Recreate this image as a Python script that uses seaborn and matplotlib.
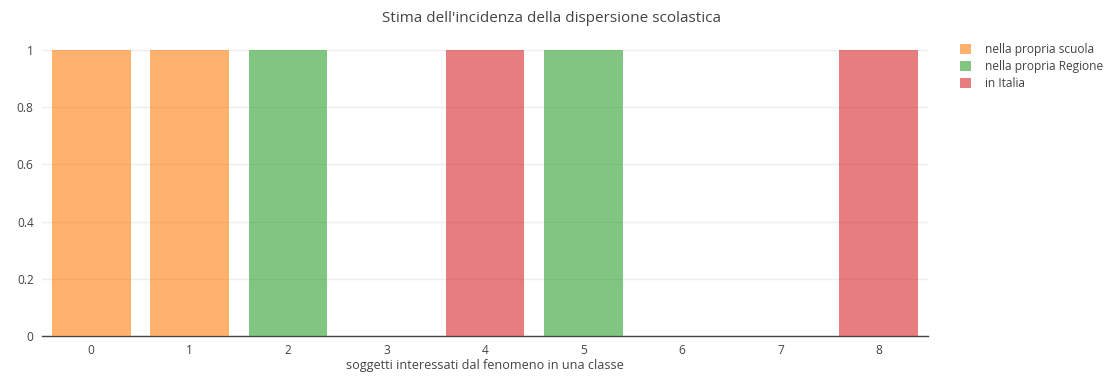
import matplotlib
matplotlib.use("Agg")
import matplotlib.pyplot as plt
import seaborn as sns
import pandas as pd
from matplotlib.patches import Patch

categories = ["0", "1", "2", "3", "4", "5", "6", "7", "8"]
series_names = ["nella propria scuola", "nella propria Regione", "in Italia"]
scuola_x = ["0", "1"]
scuola_y = [1, 1]
regione_x = ["2", "5"]
regione_y = [1, 1]
italia_x = ["4", "8"]
italia_y = [1, 1]
colors = ["#ff7f0e", "#2ca02c", "#d62728"]

rows = []
for name, xs, ys in zip(series_names, [scuola_x, regione_x, italia_x], [scuola_y, regione_y, italia_y]):
    for x, y in zip(xs, ys):
        rows.append({"cat": x, "val": y, "serie": name})
df = pd.DataFrame(rows)

sns.set_theme(style="white")
plt.rcParams["font.family"] = ["Open Sans", "DejaVu Sans"]

fig = plt.figure(figsize=(11.04, 3.84), dpi=100)
ax = fig.add_axes([42/1104, 1-336/384, (928-42)/1104, (336-35)/384])

sns.barplot(data=df, x="cat", y="val", hue="serie", order=categories,
            hue_order=series_names, palette=colors, dodge=False, saturation=1,
            width=0.8, alpha=0.6, ax=ax, legend=False, zorder=3,
            linewidth=0)

ax.set_ylim(0, 1.0526)
ax.set_xlim(-0.5, 8.5)
ax.set_yticks([0, 0.2, 0.4, 0.6, 0.8, 1])
ax.set_yticklabels(["0", "0.2", "0.4", "0.6", "0.8", "1"])
ax.grid(axis="y", color="#eeeeee", linewidth=1, zorder=0)
ax.set_axisbelow(True)
for s in ["top", "right", "left"]:
    ax.spines[s].set_visible(False)
ax.spines["bottom"].set_color("#444444")
ax.spines["bottom"].set_linewidth(1)
ax.spines["bottom"].set_zorder(2)
ax.tick_params(axis="both", length=0, labelsize=8.6, colors="#444444", pad=6)
ax.set_xlabel("soggetti interessati dal fenomeno in una classe", fontsize=9.1, color="#444444", labelpad=1)
ax.set_ylabel("")

fig.suptitle("Stima dell'incidenza della dispersione scolastica", fontsize=11.0, color="#444444", y=1-18/384, va="center")

handles = [Patch(facecolor=c, alpha=0.6, edgecolor="none") for c in colors]
leg = fig.legend(handles, series_names, loc="upper left", bbox_to_anchor=(955/1104, 1-38/384),
                 frameon=False, fontsize=8.6, handlelength=0.9, handleheight=0.9,
                 labelspacing=0.35, handletextpad=1.2, borderaxespad=0)
for t in leg.get_texts():
    t.set_color("#444444")

fig.savefig("out.png", dpi=100)
